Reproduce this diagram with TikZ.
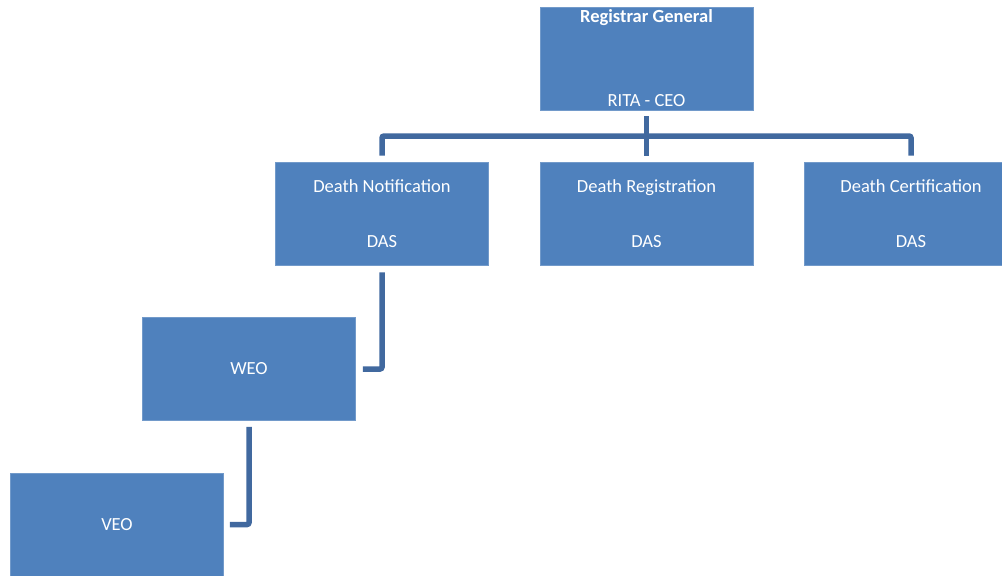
\documentclass[tikz,border=0pt]{standalone}
\usepackage{fontspec}
\setmainfont{Carlito}
\usetikzlibrary{calc}
\definecolor{boxblue}{HTML}{4F81BD}
\definecolor{linkblue}{HTML}{41699F}
\tikzset{
  orgbox/.style={rectangle, fill=boxblue, draw=boxblue!80!white, line width=0.6pt,
    minimum width=213pt, minimum height=103pt, inner sep=0pt,
    text=white, align=center, font=\fontsize{18.5}{22}\selectfont},
  link/.style={draw=linkblue, line width=5.5pt, rounded corners=2pt}
}
\begin{document}
\begin{tikzpicture}[x=1pt,y=-1pt]
\useasboundingbox (0,0) rectangle (1002,576);
\clip (0,0) rectangle (1002,576);
% boxes of the chart
\node[orgbox] (rg) at (646.5,58.5) {\textbf{Registrar General}\\[62pt]RITA - CEO};
\node[orgbox] (notif) at (382,213.5) {Death Notification\\[33pt]DAS};
\node[orgbox] (reg) at (646.5,213.5) {Death Registration\\[33pt]DAS};
\node[orgbox] (cert) at (911,213.5) {Death Certification\\[33pt]DAS};
\node[orgbox] (weo) at (249,369) {WEO};
\node[orgbox] (veo) at (117,524.5) {VEO};
% connectors
\coordinate (bar) at ($(rg.south)!0.5!(reg.north)$);
\draw[link] ([yshift=-6pt]rg.south) -- ([yshift=6pt]reg.north);
\draw[link] ([yshift=6pt]notif.north) |- (bar) -| ([yshift=6pt]cert.north);
\draw[link] ([yshift=-7pt]notif.south) |- ([xshift=7pt]weo.east);
\draw[link] ([yshift=-6pt]weo.south) |- ([xshift=6pt]veo.east);
\end{tikzpicture}
\end{document}
